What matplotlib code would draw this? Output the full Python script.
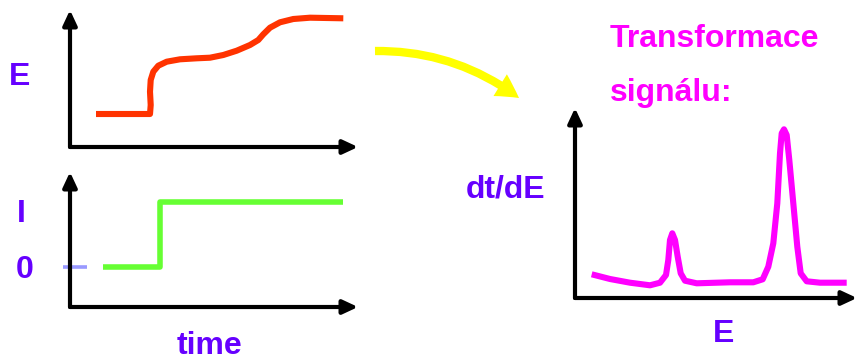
import matplotlib
matplotlib.use("Agg")
import matplotlib.pyplot as plt
from matplotlib.patches import FancyArrowPatch

# ---- data ----
# Panel 1: potential E vs time
e_time = [26.0, 80.0, 80.7, 80.0, 80.7, 83.3, 88.3, 96.7, 110.0, 126.7, 140.0,
          153.3, 166.7, 180.0, 188.3, 193.3, 200.0, 210.0, 223.3, 240.0, 273.3]
e_vals = [33.0, 33.0, 42.0, 55.3, 67.0, 75.3, 81.3, 85.3, 87.7, 88.7, 89.3,
          92.0, 96.3, 102.0, 107.0, 112.7, 119.3, 124.7, 128.0, 129.3, 128.7]

# Panel 2: current I vs time (step)
i_time = [33, 90, 90, 273]
i_vals = [40, 40, 105, 105]
zero_tick_x = [-7, 17]
zero_tick_y = [40, 40]

# Panel 3: dt/dE vs E
de_E = [16.7, 35.0, 55.0, 75.0, 85.0, 91.0, 93.3, 95.0, 97.3, 100.0, 102.7,
        105.7, 110.0, 121.7, 155.0, 178.3, 187.7, 193.3, 198.3, 202.3, 205.0,
        206.7, 209.0, 211.7, 214.3, 218.3, 222.3, 225.7, 231.7, 245.0, 271.7]
de_vals = [23.7, 19.0, 15.3, 12.7, 15.3, 23.0, 38.0, 58.0, 64.7, 58.0, 41.3,
           24.7, 17.3, 14.7, 15.7, 15.7, 18.7, 31.3, 54.7, 94.7, 144.7,
           164.7, 168.7, 163.0, 138.0, 94.7, 51.3, 24.7, 16.7, 15.3, 15.3]

# ---- styling ----
W, H = 857, 361
PURPLE = "#6600ff"
MAGENTA = "#ff00ff"
RED = "#ff3300"
GREEN = "#66ff33"
LAVENDER = "#9999ff"
YELLOW = "#ffff00"
FONT = "Liberation Sans"
FS = 23

fig = plt.figure(figsize=(W / 100, H / 100), dpi=100)


def make_axes(left, top, right, bottom, xmax, ymax):
    ax = fig.add_axes([left / W, (H - bottom) / H, (right - left) / W, (bottom - top) / H])
    ax.set_xlim(0, xmax)
    ax.set_ylim(0, ymax)
    ax.axis("off")
    style = "-|>,head_width=0.42,head_length=0.9"
    for end in [(1, 0), (0, 1)]:
        ax.annotate("", xy=end, xycoords="axes fraction", xytext=(0, 0),
                    textcoords="axes fraction",
                    arrowprops=dict(arrowstyle=style, lw=3, color="black",
                                    shrinkA=0, shrinkB=0, mutation_scale=10),
                    annotation_clip=False)
    return ax


ax1 = make_axes(70, 10, 358, 147, 288, 137)
ax1.plot(e_time, e_vals, color=RED, lw=4.4, solid_joinstyle="round",
         solid_capstyle="butt", clip_on=False)

ax2 = make_axes(70, 172, 358, 307, 288, 135)
ax2.plot(i_time, i_vals, color=GREEN, lw=4.0, solid_joinstyle="round",
         solid_capstyle="butt", clip_on=False)
ax2.plot(zero_tick_x, zero_tick_y, color=LAVENDER, lw=2.6, clip_on=False,
         solid_capstyle="butt")

ax3 = make_axes(575, 108, 857, 298, 282, 190)
ax3.plot(de_E, de_vals, color=MAGENTA, lw=4.4, solid_joinstyle="round",
         solid_capstyle="butt", clip_on=False)

# overlay in pixel coordinates for labels and the yellow arrow
ov = fig.add_axes([0, 0, 1, 1], zorder=-1)
ov.set_xlim(0, W)
ov.set_ylim(H, 0)
ov.axis("off")

tk = dict(fontfamily=FONT, fontweight="bold", fontsize=FS, va="baseline")
ov.text(20, 85, "E", color=PURPLE, ha="center", **tk)
ov.text(21, 222, "I", color=PURPLE, ha="center", **tk)
ov.text(25, 278, "0", color=PURPLE, ha="center", **tk)
ov.text(210, 354, "time", color=PURPLE, ha="center", **tk)
ov.text(466, 197, "dt/dE", color=PURPLE, ha="left", **tk)
ov.text(724, 342, "E", color=PURPLE, ha="center", **tk)
ov.text(610, 47, "Transformace", color=MAGENTA, ha="left", **tk)
ov.text(610, 101, "signálu:", color=MAGENTA, ha="left", **tk)

arrow = FancyArrowPatch((375, 51), (519, 98),
                        connectionstyle="arc3,rad=-0.17",
                        arrowstyle="simple,head_length=0.82,head_width=0.92,tail_width=0.3",
                        mutation_scale=20, color=YELLOW, lw=0,
                        shrinkA=0, shrinkB=0)
ov.add_patch(arrow)

fig.savefig("out.png", dpi=100)
